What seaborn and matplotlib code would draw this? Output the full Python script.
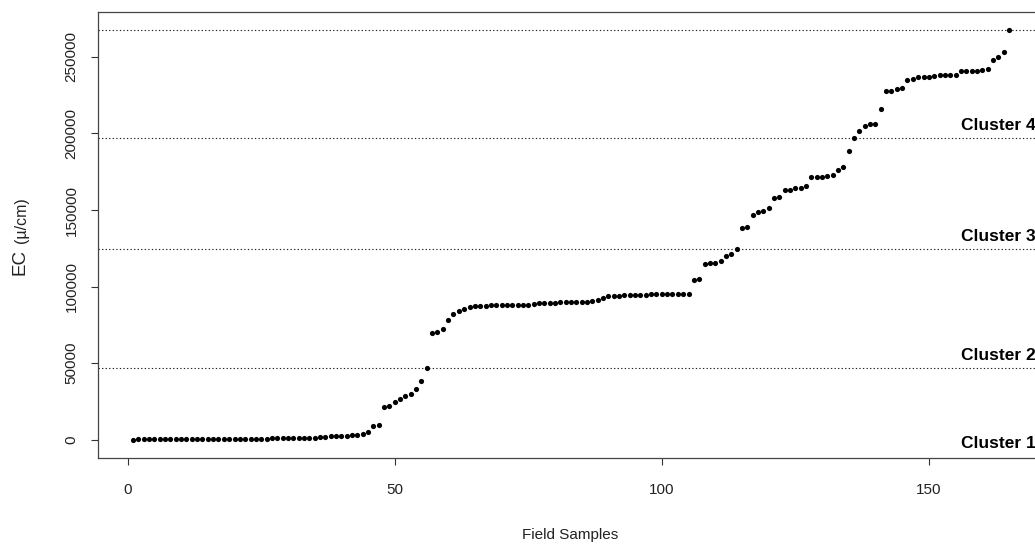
import matplotlib
matplotlib.use("Agg")
import matplotlib.pyplot as plt
import seaborn as sns
import numpy as np
import pandas as pd

# EC readings of the field samples, sorted ascending
ec = [
    100, 150, 150, 200, 200, 250, 250, 300, 300, 300,
    350, 350, 400, 400, 400, 450, 450, 500, 500, 500,
    550, 550, 600, 600, 650, 650,
    800, 850, 900, 950, 1000, 1050, 1100, 1200, 1300,
    1600, 1900, 2100, 2200, 2200, 2600, 2800, 3400, 3600, 5200,
    8700, 9600, 21100, 22300, 24400, 26600, 28800, 29700, 33200, 38600, 46700,
    69800, 70500, 72000, 78500, 82300, 84000, 85300, 86600, 87300, 87500,
    87600, 87700, 87700, 87800, 87800, 87900, 88000,
    88100, 88200, 88300,
    89000, 89200, 89400, 89600, 89800,
    89900, 90000, 90000, 90100, 90200,
    90600, 91400, 92700,
    93900, 94000, 94100,
    94500, 94600, 94700, 94700, 94800, 94900,
    95100, 95200, 95200, 95300, 95300, 95400, 95400,
    104000, 104700,
    114700, 115200, 115400,
    116700, 120000, 121500, 124800,
    138400, 138600,
    146600, 148400, 149400, 151600,
    158100, 158300,
    163000, 163100, 164100, 164700, 165800,
    171300, 171700, 171800, 172300, 172800,
    176100, 178200,
    188800, 197300,
    201600, 204900, 206200, 206300,
    216000,
    227700, 227800, 229300, 229900,
    234800, 235800, 236700, 236600, 236700,
    237600, 238400, 238400, 238300, 238300,
    240800, 240700, 240800, 241000, 241500, 241900,
    248000, 249800,
    253300,
    267800,
]
samples = list(range(1, len(ec) + 1))

# number of samples belonging to each cluster (in sorted order)
cluster_sizes = [56, 58, 22, 29]
cluster_names = ["Cluster 1", "Cluster 2", "Cluster 3", "Cluster 4"]

x_ticks = [0, 50, 100, 150]
y_ticks = [0, 50000, 100000, 150000, 200000, 250000]

df = pd.DataFrame({"sample": samples, "ec": ec})
df["cluster"] = np.repeat(cluster_names, cluster_sizes)
upper = df.groupby("cluster")["ec"].max().reindex(cluster_names).tolist()

sns.set_style("ticks")
plt.rcParams["font.family"] = ["Liberation Sans", "DejaVu Sans"]

W, H = 1035, 544
fig = plt.figure(figsize=(W / 100, H / 100), dpi=100)
# plot region runs past the right edge of the canvas
ax = fig.add_axes([98 / W, (H - 458) / H, (1044 - 98) / W, (458 - 12) / H])

sns.scatterplot(data=df, x="sample", y="ec", ax=ax, color="black",
                s=14, linewidth=0, legend=False, zorder=3)

for level in upper:
    ax.axhline(level, color="#222222", linewidth=0.8,
               linestyle=(0, (1.2, 2.0)), zorder=2)

# cluster names sit just above the lower boundary of each cluster
label_levels = [0] + upper[:-1]
offsets = [-3] + [9] * (len(cluster_names) - 1)
for name, lvl, off in zip(cluster_names, label_levels, offsets):
    ax.annotate(name, xy=(156, lvl), xytext=(0, off), textcoords="offset points",
                ha="left", va="center", fontsize=12.5, fontweight="bold",
                color="black", annotation_clip=False)

span = max(ec) - min(ec)
ax.set_xlim(1 - 0.04 * (len(ec) - 1), len(ec) + 0.04 * (len(ec) - 1))
ax.set_ylim(min(ec) - 0.045 * span, max(ec) + 0.043 * span)

ax.set_xticks(x_ticks)
ax.set_yticks(y_ticks)
ax.set_xticklabels([str(v) for v in x_ticks])
ax.set_yticklabels([str(v) for v in y_ticks], rotation=90, va="center")
ax.tick_params(axis="both", direction="out", length=5, width=0.8,
               color="#333333", labelsize=11, labelcolor="#222222")
ax.tick_params(axis="x", pad=13)
ax.tick_params(axis="y", pad=9)
for sp in ax.spines.values():
    sp.set_color("#444444")
    sp.set_linewidth(0.9)

ax.set_xlabel("")
ax.set_ylabel("")
fig.text(570 / W, 1 - 535 / H, "Field Samples", ha="center", va="center",
         fontsize=11, color="#222222")
fig.text(20 / W, 1 - 262 / H, "EC", rotation=90, ha="center", va="center",
         fontsize=13.5, color="#222222")
fig.text(21 / W, 1 - 220 / H, "(µ/cm)", rotation=90, ha="center", va="center",
         fontsize=11.5, color="#222222")

fig.savefig("out.png", dpi=100)
